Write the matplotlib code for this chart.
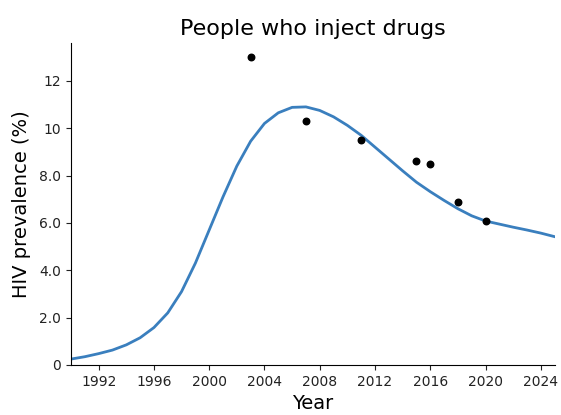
import numpy as np
import matplotlib.pyplot as plt
from matplotlib.ticker import FuncFormatter

# 模型曲线（每年一个点）
years = list(range(1990, 2026))
prevalence = [0.25, 0.35, 0.48, 0.63, 0.85, 1.15, 1.58, 2.2, 3.1, 4.3,
              5.7, 7.1, 8.4, 9.45, 10.2, 10.65, 10.88, 10.9, 10.75, 10.48,
              10.12, 9.7, 9.2, 8.7, 8.2, 7.72, 7.32, 6.95, 6.6, 6.3,
              6.08, 5.95, 5.82, 5.7, 5.57, 5.42]

# 调查数据点
survey_years = [2003, 2007, 2011, 2015, 2016, 2018, 2020]
survey_values = [13.0, 10.3, 9.5, 8.6, 8.5, 6.9, 6.1]

xticks = list(range(1992, 2025, 4))
yticks = [0, 2, 4, 6, 8, 10, 12]

fig = plt.figure(figsize=(5.61, 4.15), dpi=100)
ax = fig.add_axes([0.1266, 0.1205, 0.862, 0.776])

ax.plot(years, prevalence, color='#3a7fbe', linewidth=2)
ax.scatter(survey_years, survey_values, color='black', s=22, zorder=3)

ax.set_xlim(1990, 2025)
ax.set_ylim(0, 13.6)
ax.set_xticks(xticks)
ax.set_yticks(yticks)


def fmt(v, pos):
    # 10以上用整数，0也用整数
    if v == 0 or v >= 10:
        return f"{int(v)}"
    return f"{v:.1f}"


ax.yaxis.set_major_formatter(FuncFormatter(fmt))
ax.tick_params(labelsize=10, colors='#222222')
ax.spines['top'].set_visible(False)
ax.spines['right'].set_visible(False)

ax.set_title('People who inject drugs', fontsize=16)
ax.set_xlabel('Year', fontsize=14)
ax.set_ylabel('HIV prevalence (%)', fontsize=14, labelpad=6)

fig.savefig('out.png', dpi=100)
